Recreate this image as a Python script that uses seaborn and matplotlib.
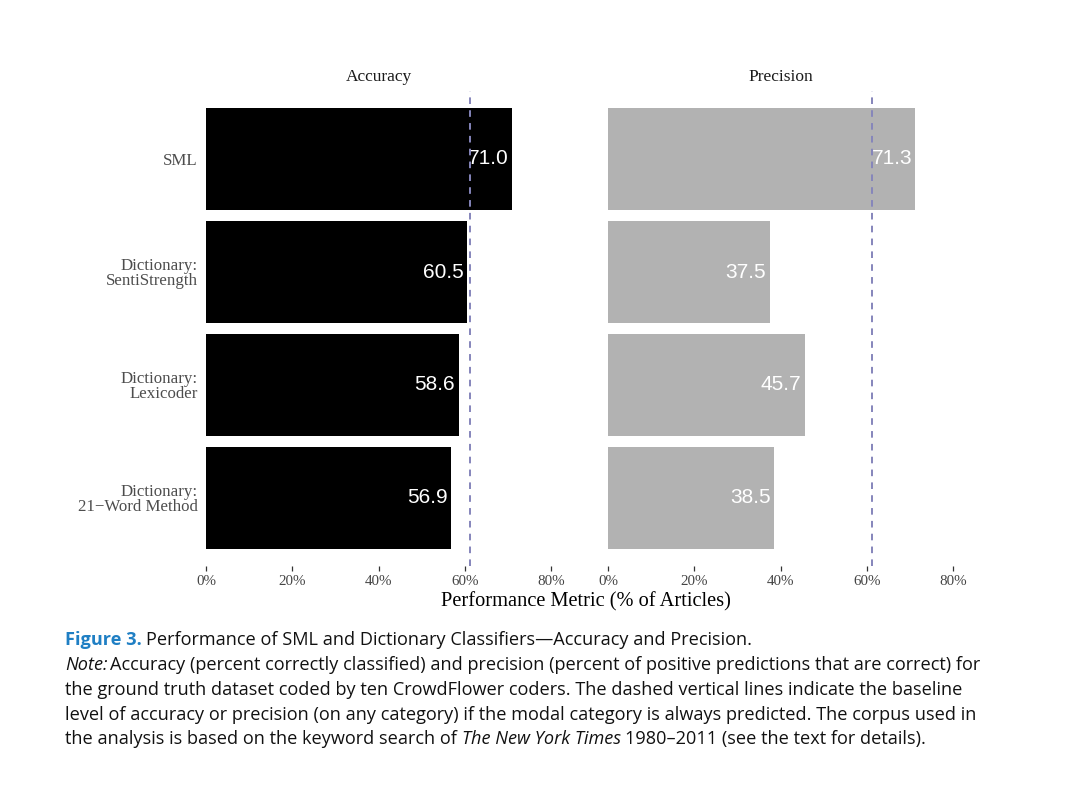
import matplotlib
matplotlib.use("Agg")
import matplotlib.pyplot as plt
import seaborn as sns
import pandas as pd
import numpy as np

methods = ["SML", "Dictionary:\nSentiStrength", "Dictionary:\nLexicoder", "Dictionary:\n21\u2212Word Method"]
accuracy = [71.0, 60.5, 58.6, 56.9]
precision = [71.3, 37.5, 45.7, 38.5]
baseline_accuracy = 61.3
baseline_precision = 61.3
panels = ["Accuracy", "Precision"]
bar_colors = ["#000000", "#b2b2b2"]
x_ticks = [0, 20, 40, 60, 80]
x_ticklabels = ["0%", "20%", "40%", "60%", "80%"]

sns.set_theme(style="white")
serif = ["Liberation Serif", "DejaVu Serif"]
plt.rcParams["font.family"] = serif

fig = plt.figure(figsize=(10.78, 7.85), dpi=100)
W, H = 1078, 785
top_px, bot_px = 91.2, 565.8
ax_h = (bot_px - top_px) / H
ax_b = 1 - bot_px / H
ax1 = fig.add_axes([206 / W, ax_b, 345 / W, ax_h])
ax2 = fig.add_axes([608 / W, ax_b, 345 / W, ax_h])

data = {"Accuracy": accuracy, "Precision": precision}
baselines = {"Accuracy": baseline_accuracy, "Precision": baseline_precision}

for ax, panel, col in zip([ax1, ax2], panels, bar_colors):
    df = pd.DataFrame({"method": methods, "value": data[panel]})
    sns.barplot(data=df, x="value", y="method", order=methods, color=col,
                saturation=1, width=0.9, ax=ax, edgecolor="none", linewidth=0)
    ax.set_xlim(0, 80)
    ax.set_ylim(3.6, -0.6)
    for i, v in enumerate(data[panel]):
        ax.annotate(f"{v:.1f}", xy=(v, i), xytext=(-2.5, 0), textcoords="offset points",
                    ha="right", va="center", color="white", fontsize=15,
                    family=["Liberation Sans", "DejaVu Sans"], zorder=4)
    ax.axvline(baselines[panel], color="#8585bb", lw=1.4, ls=(0, (3.4, 3.2)), zorder=5)
    for s in ax.spines.values():
        s.set_visible(False)
    ax.set_xticks(x_ticks)
    ax.set_xticklabels(x_ticklabels, fontsize=10.8, color="#444444")
    ax.tick_params(axis="x", bottom=True, length=3.5, width=0.9, color="#333333", pad=3)
    ax.tick_params(axis="y", left=False, length=0, pad=6)
    ax.set_xlabel("")
    ax.set_ylabel("")
    ax.set_title(panel, fontsize=12.5, color="#1a1a1a", pad=7)
    ax.grid(False)

ax1.set_yticklabels(methods, fontsize=12.2, color="#4d4d4d", linespacing=0.95)
ax2.set_yticklabels([])

fig.text(586 / W, 1 - 602 / H, "Performance Metric (% of Articles)", ha="center", va="center",
         fontsize=14.7, color="black")

cap = ["Liberation Sans Narrow", "Open Sans", "DejaVu Sans"]
x0 = 65 / W
fs = 13.1
t1 = fig.text(x0, 1 - 640 / H, "Figure 3.", color="#1f7fc4", fontsize=fs, fontweight="bold",
              family=cap, va="center")
fig.canvas.draw()
r = fig.canvas.get_renderer()
bb = t1.get_window_extent(r)
fig.text((bb.x1 + 4) / W, 1 - 640 / H,
         "Performance of SML and Dictionary Classifiers\u2014Accuracy and Precision.",
         fontsize=fs, family=cap, va="center", color="#111111")

t2 = fig.text(x0, 1 - 665 / H, "Note:", fontsize=fs, family=cap, style="italic", va="center",
              color="#111111")
bb = t2.get_window_extent(r)
fig.text((bb.x1 + 3) / W, 1 - 665 / H,
         "Accuracy (percent correctly classified) and precision (percent of positive predictions that are correct) for",
         fontsize=fs, family=cap, va="center", color="#111111")
fig.text(x0, 1 - 690 / H,
         "the ground truth dataset coded by ten CrowdFlower coders. The dashed vertical lines indicate the baseline",
         fontsize=fs, family=cap, va="center", color="#111111")
fig.text(x0, 1 - 715 / H,
         "level of accuracy or precision (on any category) if the modal category is always predicted. The corpus used in",
         fontsize=fs, family=cap, va="center", color="#111111")
t5 = fig.text(x0, 1 - 739 / H, "the analysis is based on the keyword search of ",
              fontsize=fs, family=cap, va="center", color="#111111")
bb = t5.get_window_extent(r)
t6 = fig.text(bb.x1 / W, 1 - 739 / H, "The New York Times", fontsize=fs, family=cap,
              style="italic", va="center", color="#111111")
bb = t6.get_window_extent(r)
fig.text((bb.x1 + 4) / W, 1 - 739 / H, "1980\u20132011 (see the text for details).",
         fontsize=fs, family=cap, va="center", color="#111111")

fig.savefig("out.png", dpi=100)
